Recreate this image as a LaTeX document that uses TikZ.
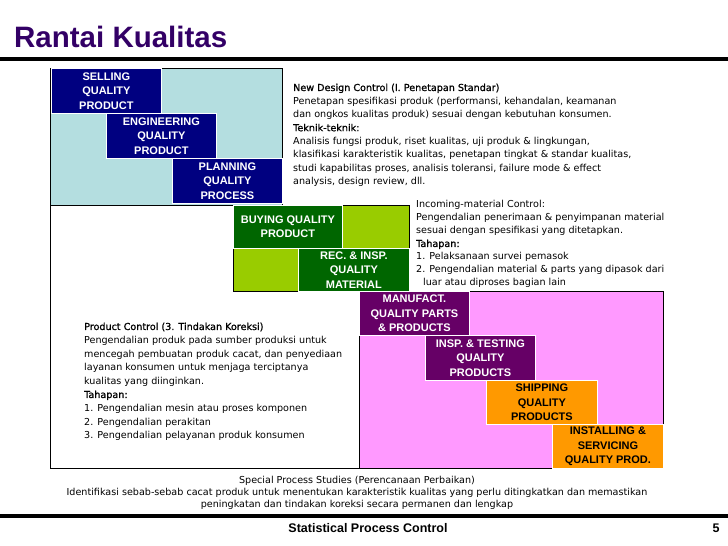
\documentclass[tikz,border=0pt]{standalone}
\usepackage{fontspec}
\setmainfont{Liberation Sans}
\newfontfamily\notefont{DejaVu Sans}
\newfontfamily\headfont{DejaVu Sans}[FakeBold=1]
\definecolor{titlec}{RGB}{51,0,102}
\definecolor{navyq}{RGB}{0,0,128}
\definecolor{lblue}{RGB}{180,222,224}
\definecolor{dgreen}{RGB}{0,102,0}
\definecolor{lgreen}{RGB}{153,204,0}
\definecolor{purpq}{RGB}{102,0,102}
\definecolor{pinkq}{RGB}{255,153,255}
\definecolor{orangeq}{RGB}{255,153,0}
\begin{document}
\begin{tikzpicture}[x=1pt,y=-1pt,
  qbox/.style={draw=white,line width=0.8pt,anchor=north west,inner sep=0pt,
    minimum width=110pt,minimum height=45pt,align=center,text=white,
    font=\bfseries\fontsize{11}{14.6}\selectfont},
  note/.style={anchor=north west,inner sep=0pt,align=left,
    font=\notefont\fontsize{9.6}{13.4}\selectfont}]
  \useasboundingbox (0,0) rectangle (728,546);
  \node[anchor=base west,inner sep=0pt,text=titlec,font=\bfseries\fontsize{29.5}{32}\selectfont] (title) at (14,47) {Rantai Kualitas};
  \draw[line width=4pt] (0,59) -- (728,59);
  \draw[line width=4pt] (0,516) -- (728,516);
  \draw (50,205) -- (50,468) -- (359,468);
  \draw[fill=lblue] (50,68) rectangle (282,205);
  \draw[fill=lgreen] (233,205) rectangle (409,291);
  \draw[fill=pinkq] (359,291) rectangle (663,468);
  \node[qbox,fill=navyq] (sell) at (51,68) {SELLING\\QUALITY\\PRODUCT};
  \node[qbox,fill=navyq] (eng) at (106,113) {ENGINEERING\\QUALITY\\PRODUCT};
  \node[qbox,fill=navyq] (plan) at (172,158) {PLANNING\\QUALITY\\PROCESS};
  \node[qbox,fill=dgreen,minimum width=109pt,minimum height=43pt] (buy) at (233,205) {BUYING QUALITY\\PRODUCT};
  \node[qbox,fill=dgreen,minimum width=111pt,minimum height=43pt] (rec) at (298,248) {REC. \& INSP.\\QUALITY\\MATERIAL};
  \node[qbox,fill=purpq,minimum height=44pt] (manuf) at (359,291) {MANUFACT.\\QUALITY PARTS\\\& PRODUCTS};
  \node[qbox,fill=purpq] (insp) at (425,335) {INSP. \& TESTING\\QUALITY\\PRODUCTS};
  \node[qbox,fill=orangeq,text=black,minimum width=111pt,minimum height=44pt] (ship) at (486,380) {SHIPPING\\QUALITY\\PRODUCTS};
  \node[qbox,fill=orangeq,text=black,minimum width=111pt,minimum height=44pt] (inst) at (552,424) {INSTALLING \&\\SERVICING\\QUALITY PROD.};
  \node[note] (design) at (293,83.5) {{\headfont New Design Control (I. Penetapan Standar)}\\
    Penetapan spesifikasi produk (performansi, kehandalan, keamanan\\
    dan ongkos kualitas produk) sesuai dengan kebutuhan konsumen.\\
    {\headfont Teknik-teknik:}\\
    Analisis fungsi produk, riset kualitas, uji produk \& lingkungan,\\
    klasifikasi karakteristik kualitas, penetapan tingkat \& standar kualitas,\\
    studi kapabilitas proses, analisis toleransi, failure mode \& effect\\
    analysis, design review, dll.};
  \node[note,font=\notefont\fontsize{9.6}{13}\selectfont] (incoming) at (416,200.5) {Incoming-material Control:\\
    Pengendalian penerimaan \& penyimpanan material\\
    sesuai dengan spesifikasi yang ditetapkan.\\
    {\headfont Tahapan:}\\
    1. Pelaksanaan survei pemasok\\
    2. Pengendalian material \& parts yang dipasok dari\\
    \hspace*{7pt}luar atau diproses bagian lain};
  \node[note,font=\notefont\fontsize{9.6}{13.6}\selectfont] (product) at (84,322.5) {{\headfont Product Control (3. Tindakan Koreksi)}\\
    Pengendalian produk pada sumber produksi untuk\\
    mencegah pembuatan produk cacat, dan penyediaan\\
    layanan konsumen untuk menjaga terciptanya\\
    kualitas yang diinginkan.\\
    {\headfont Tahapan:}\\
    1. Pengendalian mesin atau proses komponen\\
    2. Pengendalian perakitan\\
    3. Pengendalian pelayanan produk konsumen};
  \node[anchor=north,inner sep=0pt,align=center,font=\notefont\fontsize{9.6}{12}\selectfont] (special) at (357,476) {Special Process Studies (Perencanaan Perbaikan)\\
    Identifikasi sebab-sebab cacat produk untuk menentukan karakteristik kualitas yang perlu ditingkatkan dan memastikan\\
    peningkatan dan tindakan koreksi secara permanen dan lengkap};
  \node[inner sep=0pt,font=\bfseries\fontsize{12.5}{14}\selectfont] (footer) at (368,528) {Statistical Process Control};
  \node[inner sep=0pt,font=\bfseries\fontsize{12.5}{14}\selectfont] (page) at (716,528) {5};
\end{tikzpicture}
\end{document}
